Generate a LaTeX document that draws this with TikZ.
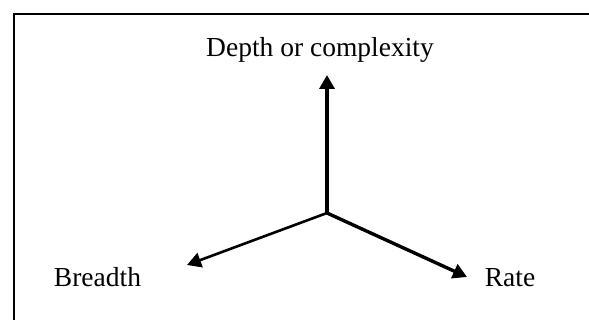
\documentclass[tikz,border=0pt]{standalone}
\usepackage{fontspec}
\setmainfont{Liberation Serif}
\usetikzlibrary{arrows.meta}
\begin{document}
\begin{tikzpicture}[x=1pt,y=-1pt,
  axis/.style={line width=3.4pt,-{Triangle[length=14pt,width=15pt]}},
  lbl/.style={font=\fontsize{27.5}{33}\selectfont,inner sep=0pt,anchor=base}]
\useasboundingbox (0,0) rectangle (589,320);
\clip (0,0) rectangle (589,320);
\draw[line width=2.2pt] (14,14) rectangle (640,380);
\coordinate (o) at (327,213);
\coordinate (up) at (327,75);
\coordinate (lt) at (187,265);
\coordinate (rt) at (467,277);
\draw[axis] (o) -- (up);
\draw[axis,line width=2.6pt] (o) -- (lt);
\draw[axis] (o) -- (rt);
\node[lbl] (depth) at (320,57) {Depth or complexity};
\node[lbl] (breadth) at (97.5,287) {Breadth};
\node[lbl] (rate) at (510,287) {Rate};
\end{tikzpicture}
\end{document}
